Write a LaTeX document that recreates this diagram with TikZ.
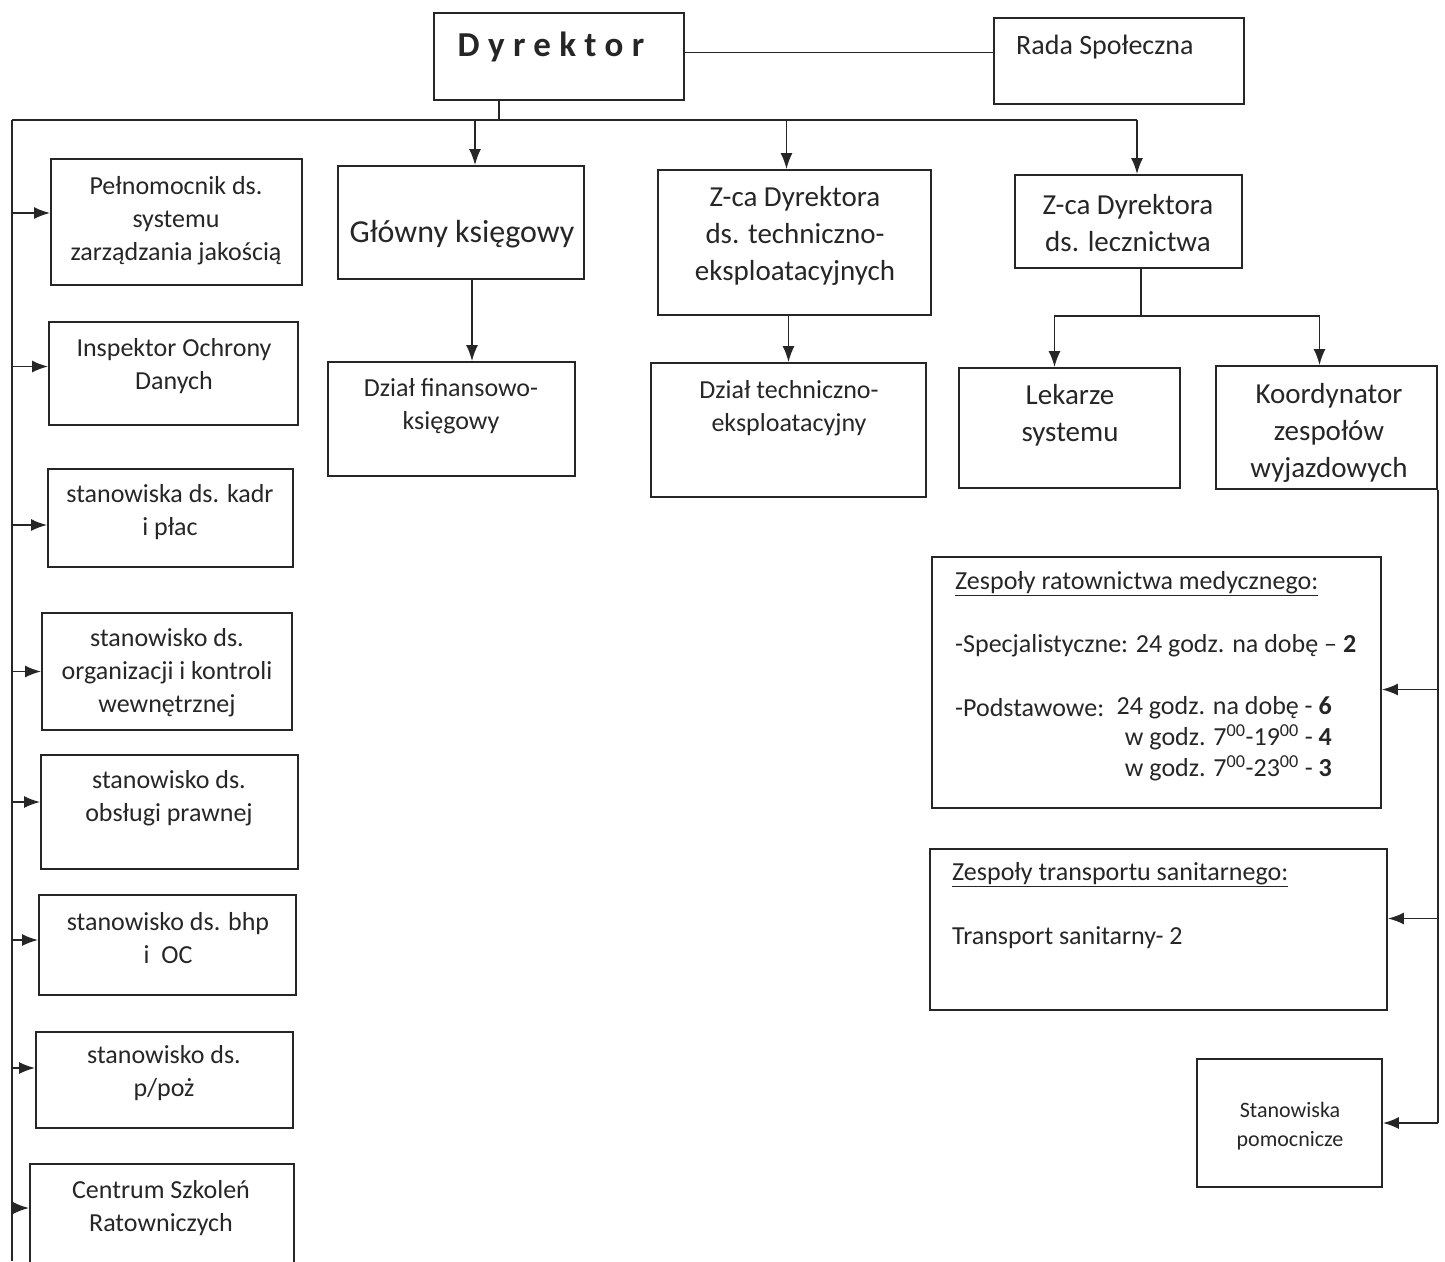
\documentclass[tikz,border=0pt]{standalone}
\usepackage{fontspec}
\setmainfont{Carlito}
\usetikzlibrary{arrows.meta,positioning}

\begin{document}
\begin{tikzpicture}[x=1pt,y=-1pt,
    box/.style={draw=black!85, line width=1.8pt, inner sep=0pt},
    txt/.style={inner sep=0pt, align=center, text=black!85, font=\fontsize{26}{33}\selectfont},
    big/.style={txt, font=\fontsize{29}{37}\selectfont},
    small/.style={txt, font=\fontsize{22}{29}\selectfont},
    conn/.style={draw=black!85, line width=1.8pt},
    arr/.style={conn, -{Latex[length=16pt,width=12pt]}}]
    \useasboundingbox (0,0) rectangle (1445,1261);
    % Top
    \node[box, minimum width=250pt, minimum height=87pt] (dyr) at (559,56.5) {};
    \node[txt, font=\fontsize{35}{40}\selectfont\bfseries\addfontfeature{LetterSpace=24}] (dyr-t) at (551,47) {Dyrektor};
    \node[box, minimum width=250pt, minimum height=86pt] (rada) at (1119,61) {};
    \node[txt, anchor=west, font=\fontsize{28}{33}\selectfont] (rada-t) at (1016,47) {Rada Społeczna};
    \draw[conn] ([yshift=4pt]dyr.east) -- ([yshift=4pt]dyr.east -| rada.west);
    % Bus
    \coordinate (busL) at (12,120);
    \coordinate (busR) at (1137,120);
    \coordinate (dyrdown) at (499,120);
    \draw[conn] (dyr.south -| dyrdown) -- (dyrdown);
    \draw[conn] (busL) -- (busR);
    \draw[conn] (busL) -- (12,1261);
    % Left column
    \node[box, minimum width=251pt, minimum height=126pt] (peln) at (176.5,222) {};
    \node[txt] (peln-t) at (176,221) {Pełnomocnik ds.\\systemu\\zarządzania jakością};
    \node[box, minimum width=249pt, minimum height=103pt] (insp) at (173.5,373.5) {};
    \node[txt] (insp-t) at (174,366.5) {Inspektor Ochrony\\Danych};
    \node[box, minimum width=245pt, minimum height=98pt] (kadr) at (170.5,518) {};
    \node[txt] (kadr-t) at (170,512.5) {stanowiska ds. kadr\\i płac};
    \node[box, minimum width=250pt, minimum height=117pt] (org) at (167,671.5) {};
    \node[txt] (org-t) at (167,673) {stanowisko ds.\\organizacji i kontroli\\wewnętrznej};
    \node[box, minimum width=257pt, minimum height=114pt] (praw) at (169.5,812) {};
    \node[txt] (praw-t) at (169,798.5) {stanowisko ds.\\obsługi prawnej};
    \node[box, minimum width=257pt, minimum height=100pt] (bhp) at (167.5,945) {};
    \node[txt] (bhp-t) at (168,938.5) {stanowisko ds. bhp\\i\ \ OC};
    \node[box, minimum width=257pt, minimum height=96pt] (ppoz) at (164.5,1080) {};
    \node[txt] (ppoz-t) at (164,1073.5) {stanowisko ds.\\p/poż};
    \node[box, minimum width=264pt, minimum height=116pt] (csr) at (162,1222) {};
    \node[txt] (csr-t) at (161,1208.5) {Centrum Szkoleń\\Ratowniczych};
    \draw[arr] (busL |- peln.west) ++(0,-9) -- ([yshift=9pt]peln.west);
    \draw[arr] (busL |- insp.west) ++(0,-7) -- ([yshift=7pt]insp.west);
    \draw[arr] (busL |- kadr.west) ++(0,7) -- ([yshift=-7pt]kadr.west);
    \draw[arr] (busL |- org.west) -- (org.west);
    \draw[arr] (busL |- praw.west) ++(0,-10) -- ([yshift=10pt]praw.west);
    \draw[arr] (busL |- bhp.west) ++(0,-5) -- ([yshift=5pt]bhp.west);
    \draw[arr] (busL |- ppoz.west) ++(0,-12) -- ([yshift=12pt]ppoz.west);
    \draw[arr] (busL |- csr.west) ++(0,-14) -- ([yshift=14pt]csr.west);
    % Middle
    \node[box, minimum width=246pt, minimum height=113pt] (gk) at (461,222.5) {};
    \node[big, font=\fontsize{32}{37}\selectfont] (gk-t) at (462,234) {Główny księgowy};
    \node[box, minimum width=247pt, minimum height=114pt] (dfk) at (451.5,419) {};
    \node[txt] (dfk-t) at (451,406) {Dział finansowo-\\księgowy};
    \node[box, minimum width=273pt, minimum height=145pt] (ztech) at (794.5,242.5) {};
    \node[big] (ztech-t) at (795,236) {Z-ca Dyrektora\\ds. techniczno-\\eksploatacyjnych};
    \node[box, minimum width=275pt, minimum height=134pt] (dtech) at (788.5,430) {};
    \node[txt] (dtech-t) at (789,408.5) {Dział techniczno-\\eksploatacyjny};
    \draw[arr] ([xshift=14pt]gk.north |- busL) -- ([xshift=14pt]gk.north);
    \draw[arr] ([xshift=-8pt]ztech.north |- busL) -- ([xshift=-8pt]ztech.north);
    \draw[arr] ([xshift=11pt]gk.south) -- ([xshift=11pt]gk.south |- dfk.north);
    \draw[arr] (ztech.south -| dtech.north) -- (dtech.north);
    % Right
    \node[box, minimum width=227pt, minimum height=93pt] (zlecz) at (1128.5,221.5) {};
    \node[big] (zlecz-t) at (1128,223) {Z-ca Dyrektora\\ds. lecznictwa};
    \draw[arr] (busR) -- (busR |- zlecz.north);
    \node[box, minimum width=221pt, minimum height=120pt] (lek) at (1069.5,428) {};
    \node[big] (lek-t) at (1070,415.5) {Lekarze\\systemu};
    \node[box, minimum width=221pt, minimum height=123pt] (koord) at (1326.5,427.5) {};
    \node[big] (koord-t) at (1329,433) {Koordynator\\zespołów\\wyjazdowych};
    \coordinate (split) at (1141,316);
    \draw[conn] (zlecz.south -| split) -- (split);
    \draw[arr] (split) -| ([xshift=-15pt]lek.north);
    \draw[arr] (split) -| ([xshift=-7pt]koord.north);
    % Teams
    \node[box, minimum width=449pt, minimum height=251pt] (zrm) at (1156.5,682.5) {};
    \node[txt, anchor=west] (zrm-h) at (955,584) {\underline{Zespoły ratownictwa medycznego:}};
    \node[txt, anchor=west] (zrm-s) at (955,646) {-Specjalistyczne: 24 godz. na dobę – \textbf{2}};
    \node[txt, anchor=west] (zrm-p) at (955,708) {-Podstawowe:};
    \node[txt, anchor=east, align=right, font=\fontsize{26}{31}\selectfont] (zrm-w) at (1332,739)
        {24 godz. na dobę - \textbf{6}\\w godz. 7\textsuperscript{00}-19\textsuperscript{00} - \textbf{4}\\w godz. 7\textsuperscript{00}-23\textsuperscript{00} - \textbf{3}};
    \node[box, minimum width=457pt, minimum height=161pt] (zts) at (1158.5,929.5) {};
    \node[txt, anchor=west] (zts-h) at (952,875) {\underline{Zespoły transportu sanitarnego:}};
    \node[txt, anchor=west] (zts-t) at (952,938) {Transport sanitarny- 2};
    \node[box, minimum width=185pt, minimum height=128pt] (stp) at (1289.5,1123) {};
    \node[small] (stp-t) at (1290,1126.5) {Stanowiska\\pomocnicze};
    \draw[conn] (koord.south east) -- (koord.south east |- stp.east);
    \draw[arr] (koord.south east |- zrm.east) ++(0,7) -- ([yshift=-7pt]zrm.east);
    \draw[arr] (koord.south east |- zts.east) ++(0,-11) -- ([yshift=11pt]zts.east);
    \draw[arr] (koord.south east |- stp.east) -- (stp.east);
\end{tikzpicture}
\end{document}
